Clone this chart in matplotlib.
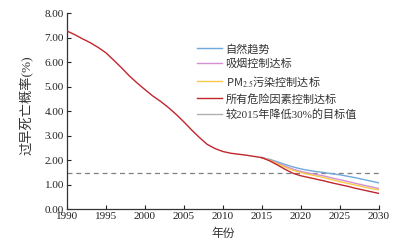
import matplotlib
matplotlib.use("Agg")
import matplotlib.pyplot as plt
from matplotlib.lines import Line2D

plt.rcParams['font.family'] = ['Liberation Serif', 'Noto Sans CJK SC']
plt.rcParams['mathtext.fontset'] = 'stix'

hist_years = list(range(1990, 2016))
hist_vals = [7.27, 7.12, 6.95, 6.79, 6.60, 6.38, 6.08, 5.77, 5.44, 5.15,
             4.88, 4.62, 4.40, 4.15, 3.87, 3.56, 3.23, 2.92, 2.64, 2.47,
             2.35, 2.28, 2.24, 2.20, 2.15, 2.10]

proj_years = list(range(2015, 2031))
natural = [2.10, 2.03, 1.93, 1.82, 1.72, 1.64, 1.58, 1.53, 1.49, 1.44, 1.40, 1.34, 1.28, 1.21, 1.14, 1.07]
smoking = [2.10, 2.00, 1.88, 1.75, 1.63, 1.54, 1.47, 1.41, 1.35, 1.27, 1.20, 1.13, 1.05, 0.98, 0.91, 0.84]
pm25 = [2.10, 1.99, 1.85, 1.71, 1.58, 1.49, 1.42, 1.35, 1.28, 1.20, 1.12, 1.05, 0.98, 0.91, 0.84, 0.78]
all_factors = [2.10, 1.97, 1.80, 1.62, 1.46, 1.36, 1.29, 1.22, 1.15, 1.07, 1.00, 0.93, 0.85, 0.78, 0.71, 0.64]
target = 1.47

labels = ["自然趋势", "吸烟控制达标", "PM$_{2.5}$污染控制达标", "所有危险因素控制达标", "较2015年降低30%的目标值"]
colors = ["#6fa8dc", "#d48fd0", "#f7c94a", "#c0262d", "#b0b0b0"]

fig = plt.figure(figsize=(4.10, 2.46), dpi=100)
ax = fig.add_axes([0.163, 0.150, 0.761, 0.797])

ax.axhline(target, color="#808080", lw=0.9, ls=(0, (4, 3)), zorder=1)
for vals, c in zip([natural, smoking, pm25, all_factors], colors[:4]):
    ax.plot(proj_years, vals, color=c, lw=1.0, zorder=2)
ax.plot(hist_years, hist_vals, color=colors[3], lw=1.0, zorder=3)

ax.set_xlim(1990, 2030)
ax.set_ylim(0, 8)
ax.set_xticks(range(1990, 2031, 5))
ax.set_yticks(range(0, 9))
ax.set_yticklabels([f"{v:.2f}" for v in range(0, 9)])
ax.tick_params(direction="in", length=3, width=0.8, labelsize=8, colors="#222222", pad=2)
for s in ["top", "right"]:
    ax.spines[s].set_visible(False)
for s in ["left", "bottom"]:
    ax.spines[s].set_linewidth(0.9)
    ax.spines[s].set_color("#333333")

ax.set_xlabel("年份", fontsize=8.5, color="#333333")
ax.xaxis.set_label_coords(0.5, -0.095)
ax.set_ylabel("过早死亡概率(%)", fontsize=9.5, color="#333333")
ax.yaxis.set_label_coords(-0.11, 0.53)

handles = [Line2D([], [], color=c, lw=1.0) for c in colors]
leg = ax.legend(handles, labels, loc="upper left", bbox_to_anchor=(0.418, 0.845), frameon=False,
                fontsize=8, handlelength=2.25, handletextpad=0.3, labelspacing=0.42, borderaxespad=0,
                borderpad=0)
for t in leg.get_texts():
    t.set_color("#333333")
leg.get_texts()[2].set_fontfamily("Noto Sans CJK SC")

fig.savefig("out.png", dpi=100)
